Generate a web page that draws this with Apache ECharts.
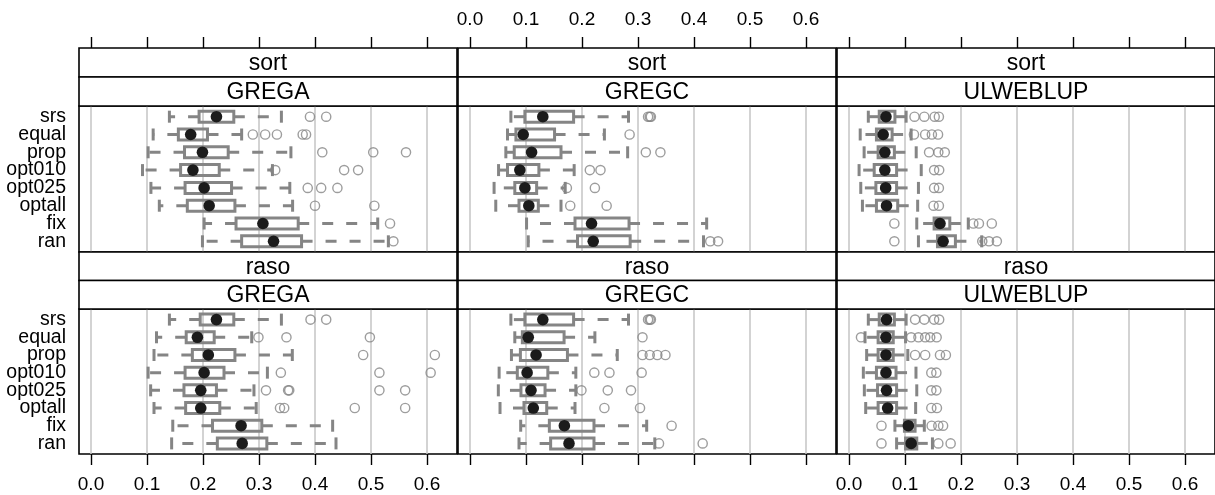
<!DOCTYPE html>
<html><head><meta charset="utf-8">
<script src="https://cdn.jsdelivr.net/npm/echarts@6/dist/echarts.min.js"></script>
<style>html,body{margin:0;padding:0;background:#fff}#c{width:1215px;height:495px}</style>
</head><body><div id="c"></div>
<script>
const CATEGORIES = ['srs','equal','prop','opt010','opt025','optall','fix','ran'];
const TICKS = [0, 0.1, 0.2, 0.3, 0.4, 0.5, 0.6];
const ROW_STRIPS = ['sort', 'raso'];
const COL_STRIPS = ['GREGA', 'GREGC', 'ULWEBLUP'];

// [lower whisker, Q1, median, Q3, upper whisker] per category
const SORT_GREGA = [
  [0.140,0.193,0.224,0.255,0.340],[0.111,0.156,0.178,0.208,0.269],[0.102,0.167,0.199,0.245,0.357],
  [0.092,0.160,0.182,0.229,0.324],[0.107,0.168,0.202,0.251,0.355],[0.122,0.172,0.211,0.257,0.360],
  [0.202,0.259,0.307,0.370,0.512],[0.199,0.269,0.326,0.376,0.531]];
const SORT_GREGA_OUT = [[0.391,0.420],[0.289,0.311,0.332,0.378,0.384],[0.413,0.504,0.5625],
  [0.329,0.452,0.477],[0.387,0.411,0.440],[0.400,0.506],[0.534],[0.540]];

const SORT_GREGC = [
  [0.073,0.098,0.130,0.185,0.283],[0.067,0.082,0.095,0.151,0.240],[0.064,0.079,0.110,0.1625,0.2815],
  [0.051,0.067,0.089,0.123,0.186],[0.043,0.080,0.098,0.119,0.170],[0.046,0.0875,0.105,0.122,0.1625],
  [0.101,0.1875,0.217,0.284,0.4226],[0.104,0.192,0.220,0.286,0.417]];
const SORT_GREGC_OUT = [[0.318,0.321,0.323],[0.285],[0.314,0.340],[0.214,0.233],[0.173,0.223],
  [0.179,0.244],[],[0.429,0.443]];

const SORT_ULWEBLUP = [
  [0.0345,0.054,0.066,0.082,0.102],[0.020,0.049,0.061,0.077,0.111],[0.027,0.052,0.064,0.081,0.120],
  [0.018,0.045,0.064,0.085,0.129],[0.021,0.048,0.0655,0.085,0.124],[0.024,0.049,0.067,0.087,0.1226],
  [0.121,0.152,0.1625,0.180,0.213],[0.124,0.158,0.168,0.190,0.237]];
const SORT_ULWEBLUP_OUT = [[0.117,0.1345,0.153,0.1605],[0.116,0.136,0.148,0.159],[0.143,0.1595,0.171],
  [0.152,0.161],[0.152,0.1605],[0.151,0.1605],[0.081,0.222,0.232,0.255],[0.081,0.238,0.250,0.264]];

const RASO_GREGA = [
  [0.140,0.195,0.224,0.255,0.340],[0.117,0.170,0.190,0.220,0.287],[0.1125,0.181,0.2095,0.257,0.3595],
  [0.102,0.168,0.202,0.2375,0.315],[0.1065,0.166,0.196,0.224,0.291],[0.1125,0.169,0.196,0.230,0.295],
  [0.146,0.217,0.268,0.305,0.4315],[0.144,0.2256,0.270,0.314,0.4375]];
const RASO_GREGA_OUT = [[0.392,0.420],[0.299,0.349,0.498],[0.486,0.614],[0.339,0.515,0.6065],
  [0.3125,0.352,0.354,0.515,0.561],[0.3375,0.345,0.471,0.561],[],[]];

const RASO_GREGC = [
  [0.073,0.098,0.130,0.185,0.283],[0.080,0.0935,0.104,0.168,0.223],[0.074,0.090,0.118,0.174,0.263],
  [0.052,0.0845,0.102,0.139,0.189],[0.0506,0.091,0.109,0.134,0.189],[0.0536,0.0964,0.113,0.137,0.1875],
  [0.0905,0.1417,0.1685,0.2214,0.3155],[0.0875,0.144,0.1768,0.2214,0.330]];
const RASO_GREGC_OUT = [[0.318,0.321,0.323],[0.308],[0.308,0.321,0.3345,0.349],[0.222,0.249,0.3065],
  [0.199,0.246,0.2875],[0.240,0.3036],[0.360],[0.3375,0.4155]];

const RASO_ULWEBLUP = [
  [0.0345,0.054,0.067,0.081,0.102],[0.0286,0.052,0.066,0.079,0.101],[0.0315,0.052,0.066,0.079,0.105],
  [0.0256,0.049,0.066,0.084,0.1196],[0.0274,0.051,0.067,0.085,0.121],[0.0298,0.052,0.069,0.085,0.119],
  [0.082,0.099,0.106,0.118,0.1345],[0.085,0.101,0.111,0.121,0.149]];
const RASO_ULWEBLUP_OUT = [[0.118,0.1345,0.152,0.161],[0.0214,0.111,0.124,0.136,0.145,0.1565],
  [0.118,0.136,0.1625,0.173],[0.147,0.156],[0.147,0.156],[0.147,0.157],[0.058,0.1476,0.1595,0.168],
  [0.058,0.1595,0.1815]];

const PANEL_STATS = [[SORT_GREGA, SORT_GREGC, SORT_ULWEBLUP], [RASO_GREGA, RASO_GREGC, RASO_ULWEBLUP]];
const PANEL_OUT = [[SORT_GREGA_OUT, SORT_GREGC_OUT, SORT_ULWEBLUP_OUT], [RASO_GREGA_OUT, RASO_GREGC_OUT, RASO_ULWEBLUP_OUT]];

// ---- layout ----
const FONT = '"Liberation Sans", Arial, Helvetica, sans-serif';
const COL_LEFT = [79, 458, 837];
const PW = 378;
const PX_PER_UNIT = 560;
const XMIN = -12 / PX_PER_UNIT;
const XMAX = XMIN + PW / PX_PER_UNIT;
const ROWS = [
  { stripTop: 48, stripH: 29, plotTop: 106, plotH: 146 },
  { stripTop: 252, stripH: 28.5, plotTop: 309, plotH: 145 }
];
const GRAY = '#858585';
const GRID_GRAY = '#c4c4c4';

function renderGridLine(params, api) {
  const a = api.coord([api.value(0), 0.4]);
  const b = api.coord([api.value(0), 8.6]);
  return { type: 'line', shape: { x1: a[0], y1: a[1], x2: b[0], y2: b[1] },
    style: { stroke: GRID_GRAY, lineWidth: 1.5 } };
}
function renderBox(params, api) {
  const c = api.value(0);
  const lo = api.coord([api.value(1), c]);
  const q1 = api.coord([api.value(2), c]);
  const md = api.coord([api.value(3), c]);
  const q3 = api.coord([api.value(4), c]);
  const hi = api.coord([api.value(5), c]);
  const y = md[1];
  const dash = { stroke: GRAY, lineWidth: 3, lineDash: [11, 13], fill: null };
  const solid = { stroke: GRAY, lineWidth: 3, fill: null };
  return { type: 'group', children: [
    { type: 'line', shape: { x1: q1[0], y1: y, x2: lo[0], y2: y }, style: dash },
    { type: 'line', shape: { x1: q3[0], y1: y, x2: hi[0], y2: y }, style: dash },
    { type: 'line', shape: { x1: lo[0], y1: y - 6, x2: lo[0], y2: y + 6 }, style: solid },
    { type: 'line', shape: { x1: hi[0], y1: y - 6, x2: hi[0], y2: y + 6 }, style: solid },
    { type: 'rect', shape: { x: q1[0], y: y - 5.5, width: q3[0] - q1[0], height: 11 },
      style: { stroke: GRAY, lineWidth: 3, fill: 'transparent' } },
    { type: 'circle', shape: { cx: md[0], cy: y, r: 5.8 }, style: { fill: '#1b1b1b' } }
  ] };
}

const grids = [], xAxes = [], yAxes = [], series = [], graphics = [];
const tickStyle = { show: true, length: 11, lineStyle: { color: '#000', width: 1.4 }, customValues: TICKS };
const labelBase = { fontSize: 19, color: '#000', fontFamily: FONT, customValues: TICKS,
  showMinLabel: true, showMaxLabel: true, hideOverlap: false,
  formatter: v => Number(v).toFixed(1) };

function catAxis(gi, show, values) {
  return { type: 'value', gridIndex: gi, min: 0.4, max: 8.6, inverse: true, position: 'left', offset: 0,
    axisLine: { show: false }, axisTick: { show: false }, splitLine: { show: false },
    axisLabel: { show: show, margin: 13, fontSize: 19.5, color: '#000', fontFamily: FONT,
      showMinLabel: true, showMaxLabel: true, hideOverlap: false,
      customValues: values, formatter: v => CATEGORIES[Math.round(v) - 1] } };
}

for (let r = 0; r < 2; r++) {
  for (let c = 0; c < 3; c++) {
    const gi = grids.length;
    const R = ROWS[r];
    grids.push({ left: COL_LEFT[c], top: R.plotTop, width: PW, height: R.plotH,
      show: true, borderColor: '#000', borderWidth: 1.6, backgroundColor: '#fff', containLabel: false });
    const mainX = xAxes.length;
    xAxes.push({ type: 'value', gridIndex: gi, min: XMIN, max: XMAX, position: 'bottom',
      axisLine: { show: false }, splitLine: { show: false },
      axisTick: Object.assign({}, tickStyle, { show: r === 1 }),
      axisLabel: Object.assign({}, labelBase, { show: r === 1 && c !== 1, margin: 21 }) });
    if (r === 0) {
      xAxes.push({ type: 'value', gridIndex: gi, min: XMIN, max: XMAX, position: 'top',
        offset: R.plotTop - R.stripTop,
        axisLine: { show: false }, splitLine: { show: false },
        axisTick: Object.assign({}, tickStyle),
        axisLabel: Object.assign({}, labelBase, { show: c === 1, margin: 19 }) });
    }
    const mainY = yAxes.length;
    // odd and even category labels on two coincident axes so none are dropped for overlap
    yAxes.push(catAxis(gi, c === 0, [1, 3, 5, 7]));
    yAxes.push(catAxis(gi, c === 0, [2, 4, 6, 8]));

    series.push({ type: 'custom', xAxisIndex: mainX, yAxisIndex: mainY, renderItem: renderGridLine,
      data: TICKS.map(t => [t, 1]), encode: { x: 0, y: 1 }, silent: true, z: 1 });
    series.push({ type: 'custom', xAxisIndex: mainX, yAxisIndex: mainY, renderItem: renderBox,
      data: PANEL_STATS[r][c].map((s, i) => [i + 1].concat(s)),
      encode: { x: [1, 2, 3, 4, 5], y: 0 }, silent: true, z: 2 });
    const outs = [];
    PANEL_OUT[r][c].forEach((arr, i) => arr.forEach(v => outs.push([v, i + 1])));
    series.push({ type: 'scatter', xAxisIndex: mainX, yAxisIndex: mainY, data: outs,
      symbol: 'circle', symbolSize: 9.2, silent: true, z: 3,
      itemStyle: { color: 'transparent', borderColor: '#858585', borderWidth: 1.4 } });

    const labels = [ROW_STRIPS[r], COL_STRIPS[c]];
    labels.forEach((txt, k) => {
      const y0 = R.stripTop + k * R.stripH;
      graphics.push({ type: 'rect', shape: { x: COL_LEFT[c], y: y0, width: PW, height: R.stripH },
        style: { fill: '#fff', stroke: '#000', lineWidth: 1.6 }, z: 10 });
      graphics.push({ type: 'text', x: COL_LEFT[c] + PW / 2, y: y0 + R.stripH / 2 + 1,
        style: { text: txt, font: '23px ' + FONT, fill: '#000', textAlign: 'center', textVerticalAlign: 'middle' }, z: 11 });
    });
  }
}

const chart = echarts.init(document.getElementById('c'), null, { renderer: 'canvas' });
chart.setOption({ animation: false, backgroundColor: '#fff', grid: grids, xAxis: xAxes, yAxis: yAxes,
  series: series, graphic: graphics });
</script></body></html>
